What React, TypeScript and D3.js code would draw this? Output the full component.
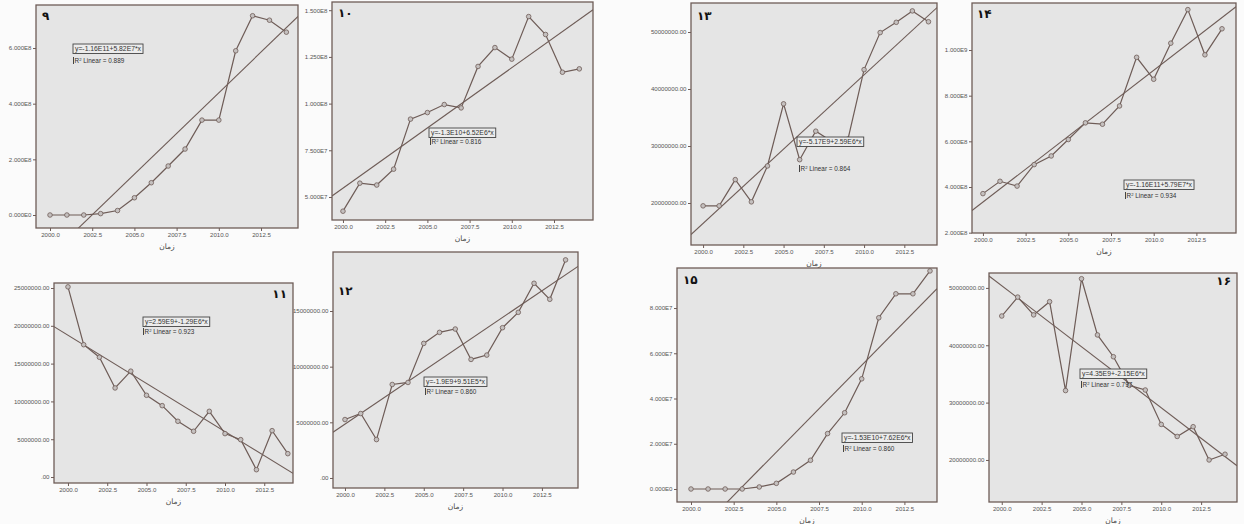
import React, { useRef, useEffect } from 'react';
import * as d3 from 'd3';

// years on the x axis of every panel
const years = [2000, 2001, 2002, 2003, 2004, 2005, 2006, 2007, 2008, 2009, 2010, 2011, 2012, 2013, 2014];
const xTickValues = [2000, 2002.5, 2005, 2007.5, 2010, 2012.5];

// series values
const values9 = [0, 0, 0, 0.05e8, 0.16e8, 0.62e8, 1.16e8, 1.76e8, 2.37e8, 3.41e8, 3.41e8, 5.9e8, 7.16e8, 7.0e8, 6.57e8];
const values10 = [4.24e7, 5.74e7, 5.64e7, 6.49e7, 9.17e7, 9.52e7, 9.95e7, 9.77e7, 1.199e8, 1.3e8, 1.238e8, 1.466e8, 1.37e8, 1.168e8, 1.186e8];
const values11 = [2.515e7, 1.75e7, 1.584e7, 1.178e7, 1.4e7, 1.081e7, 9.44e6, 7.37e6, 6.05e6, 8.69e6, 5.74e6, 4.94e6, 0.97e6, 6.13e6, 3.09e6];
const values12 = [5.25e6, 5.79e6, 3.45e6, 8.4e6, 8.58e6, 1.209e7, 1.308e7, 1.338e7, 1.065e7, 1.104e7, 1.35e7, 1.488e7, 1.749e7, 1.605e7, 1.959e7];
const values13 = [1.95e7, 1.95e7, 2.41e7, 2.02e7, 2.65e7, 3.74e7, 2.76e7, 3.26e7, 3.08e7, 3.12e7, 4.34e7, 4.99e7, 5.17e7, 5.37e7, 5.18e7];
const values14 = [3.71e8, 4.25e8, 4.04e8, 4.98e8, 5.36e8, 6.08e8, 6.81e8, 6.75e8, 7.55e8, 9.68e8, 8.72e8, 1.03e9, 1.177e9, 9.79e8, 1.093e9];
const values15 = [0, 0, 0, 0, 0.09e7, 0.25e7, 0.75e7, 1.27e7, 2.45e7, 3.37e7, 4.87e7, 7.57e7, 8.63e7, 8.63e7, 9.64e7];
const values16 = [4.51e7, 4.84e7, 4.53e7, 4.76e7, 3.21e7, 5.16e7, 4.18e7, 3.8e7, 3.3e7, 3.22e7, 2.62e7, 2.41e7, 2.58e7, 2.0e7, 2.1e7];

// y tick values per panel
const yTicks9 = [0, 2e8, 4e8, 6e8];
const yTicks10 = [5e7, 7.5e7, 1e8, 1.25e8, 1.5e8];
const yTicks11 = [0, 5e6, 1e7, 1.5e7, 2e7, 2.5e7];
const yTicks12 = [0, 5e6, 1e7, 1.5e7];
const yTicks13 = [2e7, 3e7, 4e7, 5e7];
const yTicks14 = [2e8, 4e8, 6e8, 8e8, 1e9];
const yTicks15 = [0, 2e7, 4e7, 6e7, 8e7];
const yTicks16 = [2e7, 3e7, 4e7, 5e7];

// fit labels
const equations = ['y=-1.16E11+5.82E7*x', 'y=-1.3E10+6.52E6*x', 'y=2.59E9+-1.29E6*x', 'y=-1.9E9+9.51E5*x',
  'y=-5.17E9+2.59E6*x', 'y=-1.16E11+5.79E7*x', 'y=-1.53E10+7.62E6*x', 'y=4.35E9+-2.15E6*x'];
const rSquared = ['0.889', '0.816', '0.923', '0.860', '0.864', '0.934', '0.860', '0.797'];
const panelNames = ['۹', '۱۰', '۱۱', '۱۲', '۱۳', '۱۴', '۱۵', '۱۶'];
const xTitle = 'زمان';

const sciFmt = v => v === 0 ? '0.000E0' : v.toExponential(3).replace('e+', 'E');
const fixFmt = v => v === 0 ? '.00' : v.toFixed(2);

const panels = [
  { values: values9, ticks: yTicks9, fmt: sciFmt, box: [36, 5, 298, 228], xd: [1999.17, 2014.69], yd: [-0.467e8, 7.546e8], eq: [73, 44], r2: [73, 63], num: [42, 20], numRight: false },
  { values: values10, ticks: yTicks10, fmt: sciFmt, box: [332, 2, 593, 220], xd: [1999.35, 2014.81], yd: [3.768e7, 1.544e8], eq: [429, 128], r2: [430, 144], num: [338, 17], numRight: false },
  { values: values11, ticks: yTicks11, fmt: fixFmt, box: [54, 283, 293, 483], xd: [1999.11, 2014.33], yd: [-0.79e6, 25.66e6], eq: [143, 317], r2: [143, 334], num: [287, 298], numRight: true },
  { values: values12, ticks: yTicks12, fmt: fixFmt, box: [333, 252, 578, 488], xd: [1999.24, 2014.79], yd: [-0.9e6, 20.3e6], eq: [424, 377], r2: [425, 394], num: [338, 295], numRight: false },
  { values: values13, ticks: yTicks13, fmt: fixFmt, box: [691, 3, 937, 245], xd: [1999.25, 2014.53], yd: [1.263e7, 5.509e7], eq: [797, 137], r2: [799, 171], num: [697, 20], numRight: false },
  { values: values14, ticks: yTicks14, fmt: sciFmt, box: [972, 3, 1236, 233], xd: [1999.36, 2014.82], yd: [1.985e8, 12.06e8], eq: [1124, 180], r2: [1125, 198], num: [977, 18], numRight: false },
  { values: values15, ticks: yTicks15, fmt: sciFmt, box: [677, 268, 937, 502], xd: [1999.18, 2014.41], yd: [-5.75e6, 97.7e6], eq: [842, 433], r2: [843, 451], num: [683, 284], numRight: false },
  { values: values16, ticks: yTicks16, fmt: fixFmt, box: [989, 273, 1237, 502], xd: [1999.2, 2014.75], yd: [1.267e7, 5.26e7], eq: [1080, 369], r2: [1081, 387], num: [1231, 285], numRight: true },
];

const ink = '#6e5c57';
const font = 'Liberation Sans, Arial, sans-serif';

function fit(xs, ys) {
  const mx = d3.mean(xs), my = d3.mean(ys);
  const b = d3.sum(xs, (x, i) => (x - mx) * (ys[i] - my)) / d3.sum(xs, x => (x - mx) * (x - mx));
  return { a: my - b * mx, b };
}

const App = () => {
  const ref = useRef();

  useEffect(() => {
    const svg = d3.select(ref.current);
    svg.selectAll('*').remove();

    svg.append('rect').attr('width', 1244).attr('height', 524).attr('fill', '#fbfbfb');

    panels.forEach((p, i) => {
      const [left, top, right, bottom] = p.box;
      const x = d3.scaleLinear().domain(p.xd).range([left, right]);
      const y = d3.scaleLinear().domain(p.yd).range([bottom, top]);
      const g = svg.append('g');

      g.append('rect')
        .attr('x', left).attr('y', top)
        .attr('width', right - left).attr('height', bottom - top)
        .attr('fill', '#e5e5e5');

      g.append('clipPath').attr('id', `clip${i}`)
        .append('rect')
        .attr('x', left).attr('y', top)
        .attr('width', right - left).attr('height', bottom - top);

      const plot = g.append('g').attr('clip-path', `url(#clip${i})`);

      // fit line
      const { a, b } = fit(years, p.values);
      plot.append('line')
        .attr('x1', x(p.xd[0])).attr('y1', y(a + b * p.xd[0]))
        .attr('x2', x(p.xd[1])).attr('y2', y(a + b * p.xd[1]))
        .attr('stroke', ink).attr('stroke-width', 1.1);

      const line = d3.line()
        .x((d, j) => x(years[j]))
        .y(d => y(d));

      plot.append('path')
        .datum(p.values)
        .attr('fill', 'none')
        .attr('stroke', ink)
        .attr('stroke-width', 1.2)
        .attr('d', line);

      plot.selectAll('circle')
        .data(p.values)
        .enter().append('circle')
        .attr('cx', (d, j) => x(years[j]))
        .attr('cy', d => y(d))
        .attr('r', 2.3)
        .attr('fill', '#c4c0bf')
        .attr('stroke', ink)
        .attr('stroke-width', 0.8);

      // frame
      g.append('rect')
        .attr('x', left).attr('y', top)
        .attr('width', right - left).attr('height', bottom - top)
        .attr('fill', 'none')
        .attr('stroke', ink).attr('stroke-width', 1.3);

      const yAxis = g.append('g')
        .attr('transform', `translate(${left},0)`)
        .call(d3.axisLeft(y).tickValues(p.ticks).tickSize(3).tickPadding(1.5).tickFormat(p.fmt));
      const xAxis = g.append('g')
        .attr('transform', `translate(0,${bottom})`)
        .call(d3.axisBottom(x).tickValues(xTickValues).tickSize(3).tickPadding(2).tickFormat(d3.format('.1f')));

      [yAxis, xAxis].forEach(ax => {
        ax.select('.domain').remove();
        ax.selectAll('line').attr('stroke', ink);
        ax.selectAll('text')
          .attr('font-size', 6.1)
          .attr('font-family', font)
          .attr('fill', '#555');
      });

      g.append('text')
        .attr('x', (left + right) / 2)
        .attr('y', bottom + 21)
        .attr('text-anchor', 'middle')
        .attr('font-size', 7.5)
        .attr('font-family', 'DejaVu Sans, sans-serif')
        .attr('fill', '#444')
        .text(xTitle);

      // panel number
      g.append('text')
        .attr('x', p.num[0]).attr('y', p.num[1])
        .attr('text-anchor', p.numRight ? 'end' : 'start')
        .attr('font-size', 12)
        .attr('font-weight', 'bold')
        .attr('font-family', 'DejaVu Sans, sans-serif')
        .attr('fill', '#111')
        .text(panelNames[i]);

      // equation box
      const eq = g.append('text')
        .attr('x', p.eq[0] + 2).attr('y', p.eq[1] + 7)
        .attr('font-size', 6.8)
        .attr('font-family', font)
        .attr('fill', '#333')
        .text(equations[i]);
      const w = eq.node().getComputedTextLength() + 4;
      g.insert('rect', () => eq.node())
        .attr('x', p.eq[0]).attr('y', p.eq[1])
        .attr('width', w).attr('height', 9.5)
        .attr('fill', '#ececec')
        .attr('stroke', '#444').attr('stroke-width', 0.9);

      g.append('line')
        .attr('x1', p.r2[0] + 0.5).attr('x2', p.r2[0] + 0.5)
        .attr('y1', p.r2[1] - 6).attr('y2', p.r2[1] + 1)
        .attr('stroke', '#444').attr('stroke-width', 1);
      const r2 = g.append('text')
        .attr('x', p.r2[0] + 1.5).attr('y', p.r2[1])
        .attr('font-size', 6.4)
        .attr('font-family', font)
        .attr('fill', '#333');
      r2.append('tspan').text('R');
      r2.append('tspan').attr('font-size', 4.2).attr('dy', -2.5).text('2');
      r2.append('tspan').attr('dy', 2.5).text(` Linear = ${rSquared[i]}`);
    });
  }, []);

  return (
    <svg ref={ref} width={1244} height={524} style={{ position: 'absolute', left: 0, top: 0 }} />
  );
};

export default App;
